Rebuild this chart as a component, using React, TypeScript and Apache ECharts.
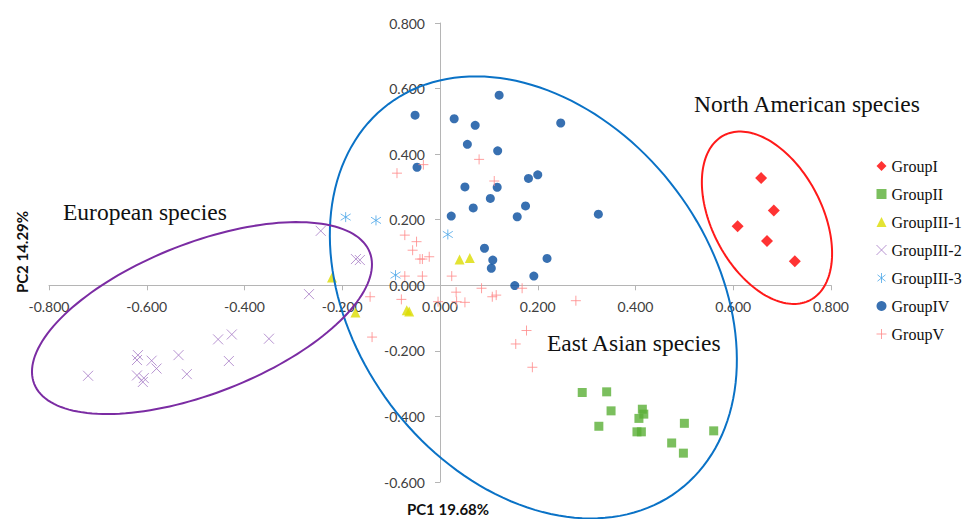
import React, { useEffect, useRef } from 'react';
import * as echarts from 'echarts';

// Axis ranges (tick step 0.2)
const X_MIN = -0.8;
const X_MAX = 0.8;
const Y_MIN = -0.6;
const Y_MAX = 0.8;
const STEP = 0.2;

const GROUP_NAMES = ['GroupI', 'GroupII', 'GroupIII-1', 'GroupIII-2', 'GroupIII-3', 'GroupIV', 'GroupV'];

const GROUP_I = [[0.657, 0.327], [0.683, 0.228], [0.609, 0.180], [0.669, 0.135], [0.726, 0.073]];

const GROUP_II = [
  [0.291, -0.327], [0.341, -0.325], [0.350, -0.383], [0.325, -0.430], [0.414, -0.378],
  [0.417, -0.393], [0.407, -0.406], [0.403, -0.447], [0.412, -0.447], [0.500, -0.421],
  [0.474, -0.481], [0.498, -0.512], [0.560, -0.444],
];

const GROUP_III_1 = [[-0.221, 0.024], [-0.173, -0.083], [0.040, 0.079], [0.061, 0.083], [-0.068, -0.076], [-0.063, -0.080]];

const GROUP_III_2 = [
  [-0.244, 0.166], [-0.172, 0.080], [-0.164, 0.077], [-0.268, -0.027], [-0.454, -0.165],
  [-0.426, -0.150], [-0.350, -0.163], [-0.618, -0.213], [-0.620, -0.228], [-0.590, -0.230],
  [-0.535, -0.213], [-0.580, -0.254], [-0.432, -0.231], [-0.720, -0.276], [-0.620, -0.275],
  [-0.606, -0.283], [-0.608, -0.295], [-0.518, -0.271],
];

const GROUP_III_3 = [[-0.193, 0.208], [-0.131, 0.198], [0.016, 0.155], [-0.091, 0.031]];

const GROUP_IV = [
  [-0.051, 0.519], [0.029, 0.508], [0.072, 0.488], [0.121, 0.580], [0.247, 0.495],
  [0.056, 0.430], [0.118, 0.410], [-0.047, 0.360], [0.051, 0.300], [0.117, 0.299],
  [0.181, 0.326], [0.200, 0.337], [0.103, 0.265], [0.068, 0.236], [0.023, 0.211],
  [0.158, 0.209], [0.175, 0.242], [0.324, 0.217], [0.091, 0.113], [0.108, 0.077],
  [0.105, 0.052], [0.219, 0.082], [0.192, 0.028], [0.153, -0.001],
];

const GROUP_V = [
  [-0.088, 0.342], [-0.034, 0.368], [0.080, 0.384], [0.111, 0.318], [-0.072, 0.153],
  [-0.048, 0.133], [-0.056, 0.107], [-0.041, 0.080], [-0.036, 0.080], [-0.022, 0.087],
  [-0.072, 0.028], [-0.036, 0.028], [0.024, 0.028], [-0.079, -0.043], [-0.143, -0.035],
  [-0.139, -0.158], [0.033, -0.021], [0.034, -0.050], [0.051, -0.052], [0.085, -0.009],
  [0.107, -0.035], [0.115, -0.030], [0.168, -0.009], [0.278, -0.047], [0.177, -0.138],
  [0.155, -0.179], [0.189, -0.250], [-0.004, -0.050],
];

// Ellipse centres in data units (North American, East Asian, European)
const ELLIPSE_CENTERS = [[0.669, 0.206], [0.191, -0.037], [-0.487, -0.100]];

const ANNOTATIONS = ['North American species', 'European species', 'East Asian species'];

const X_PATH = 'path://M0,0L10,10M10,0L0,10';
const STAR_PATH = 'path://M5,0L5,10M1,1.8L9,8.2M9,1.8L1,8.2';
const PLUS_PATH = 'path://M5,0L5,10M0,5L10,5';

const ELLIPSE_STYLE = [
  { a: 93, b: 55, angle: 62.3, color: '#FF1A1A' },
  { a: 241.6, b: 178.6, angle: 53.15, color: '#0A72C6' },
  { a: 180.2, b: 75.1, angle: -21.4, color: '#7B2CA3' },
];

const SERIES_STYLE: any[] = [
  { symbol: 'diamond', symbolSize: 12, itemStyle: { color: '#FF0000' } },
  { symbol: 'rect', symbolSize: 9, itemStyle: { color: '#5AAF36' } },
  { symbol: 'triangle', symbolSize: 10, itemStyle: { color: '#DCDC00' } },
  { symbol: X_PATH, symbolSize: 10, itemStyle: { color: 'rgba(0,0,0,0)', borderColor: '#A67BC6', borderWidth: 1 } },
  { symbol: STAR_PATH, symbolSize: 10, itemStyle: { color: 'rgba(0,0,0,0)', borderColor: '#4BA6E8', borderWidth: 1 } },
  { symbol: 'circle', symbolSize: 9, itemStyle: { color: '#064C9E' } },
  { symbol: PLUS_PATH, symbolSize: 10, itemStyle: { color: 'rgba(0,0,0,0)', borderColor: '#FF8888', borderWidth: 1 } },
];

const GROUP_DATA = [GROUP_I, GROUP_II, GROUP_III_1, GROUP_III_2, GROUP_III_3, GROUP_IV, GROUP_V];

const GRID = { left: 49, right: 133, top: 23, bottom: 37 };

export default function App() {
  const ref = useRef<HTMLDivElement>(null);
  useEffect(() => {
    if (!ref.current) return;
    const chart = echarts.init(ref.current, null, { renderer: 'svg' });
    const axisColor = '#B5B5B5';
    const fmt = (v: number) => v.toFixed(3);
    const labelStyle = { fontFamily: 'Lato', fontSize: 14, color: '#404040' };

    // Place the axes through the origin by offsetting them from the grid edges.
    const gridW = 964 - GRID.left - GRID.right;
    const gridH = 519 - GRID.top - GRID.bottom;
    const xOffset = -gridH * ((0 - Y_MIN) / (Y_MAX - Y_MIN));
    const yOffset = -gridW * ((0 - X_MIN) / (X_MAX - X_MIN));

    const scatterSeries = GROUP_NAMES.map((name, i) => ({
      name,
      type: 'scatter',
      data: GROUP_DATA[i],
      ...SERIES_STYLE[i],
      z: 3,
    }));

    const ellipseSeries = {
      type: 'custom',
      coordinateSystem: 'cartesian2d',
      clip: false,
      silent: true,
      z: 4,
      data: ELLIPSE_CENTERS,
      renderItem: (params: any, api: any) => {
        const st = ELLIPSE_STYLE[params.dataIndex];
        const c = api.coord([api.value(0), api.value(1)]);
        const phi = (st.angle * Math.PI) / 180;
        const pts: number[][] = [];
        const n = 160;
        for (let k = 0; k < n; k++) {
          const t = (k / n) * Math.PI * 2;
          const ex = st.a * Math.cos(t);
          const ey = st.b * Math.sin(t);
          pts.push([c[0] + ex * Math.cos(phi) - ey * Math.sin(phi), c[1] + ex * Math.sin(phi) + ey * Math.cos(phi)]);
        }
        return {
          type: 'polygon',
          shape: { points: pts },
          style: { fill: 'none', stroke: st.color, lineWidth: 2 },
        };
      },
    };

    const legendData = GROUP_NAMES.map((name, i) => {
      const s = SERIES_STYLE[i];
      const item: any = { name, icon: s.symbol };
      if (s.itemStyle.borderWidth) item.itemStyle = { borderWidth: 1, borderColor: s.itemStyle.borderColor, color: 'rgba(0,0,0,0)' };
      return item;
    });

    const annoStyle = { fontFamily: 'Liberation Serif', fontSize: 23.5, fill: '#111' };

    chart.setOption({
      animation: false,
      backgroundColor: '#ffffff',
      grid: GRID,
      xAxis: {
        type: 'value',
        min: X_MIN,
        max: X_MAX,
        interval: STEP,
        position: 'bottom',
        offset: xOffset,
        axisLine: { onZero: false, lineStyle: { color: axisColor, width: 1 } },
        axisTick: { show: true, length: 5, lineStyle: { color: axisColor } },
        axisLabel: { formatter: fmt, margin: 14, ...labelStyle },
        splitLine: { show: false },
      },
      yAxis: {
        type: 'value',
        min: Y_MIN,
        max: Y_MAX,
        interval: STEP,
        position: 'left',
        offset: yOffset,
        axisLine: { onZero: false, lineStyle: { color: axisColor, width: 1 } },
        axisTick: { show: true, length: 5, lineStyle: { color: axisColor } },
        axisLabel: { formatter: fmt, margin: 15, ...labelStyle },
        splitLine: { show: false },
      },
      legend: {
        orient: 'vertical',
        left: 876,
        top: 157,
        padding: 0,
        itemWidth: 10,
        itemHeight: 10,
        itemGap: 10,
        selectedMode: false,
        textStyle: { fontFamily: 'Liberation Serif', fontSize: 16, color: '#111', lineHeight: 18 },
        data: legendData,
      },
      graphic: [
        { type: 'text', x: 694, y: 104, style: { text: ANNOTATIONS[0], ...annoStyle, verticalAlign: 'middle' } },
        { type: 'text', x: 63, y: 212, style: { text: ANNOTATIONS[1], ...annoStyle, verticalAlign: 'middle' } },
        { type: 'text', x: 547, y: 343, style: { text: ANNOTATIONS[2], ...annoStyle, verticalAlign: 'middle' } },
        {
          type: 'text', x: 22, y: 252, rotation: Math.PI / 2,
          style: { text: 'PC2 14.29%', fontFamily: 'Lato', fontWeight: 'bold', fontSize: 15, fill: '#111', align: 'center', verticalAlign: 'middle' },
        },
        {
          type: 'text', x: 448, y: 509,
          style: { text: 'PC1 19.68%', fontFamily: 'Lato', fontWeight: 'bold', fontSize: 15, fill: '#111', align: 'center', verticalAlign: 'middle' },
        },
      ],
      series: [...scatterSeries, ellipseSeries],
    });
    return () => chart.dispose();
  }, []);
  return <div ref={ref} style={{ position: 'fixed', left: 0, top: 0, width: 964, height: 519, background: '#fff' }} />;
}
